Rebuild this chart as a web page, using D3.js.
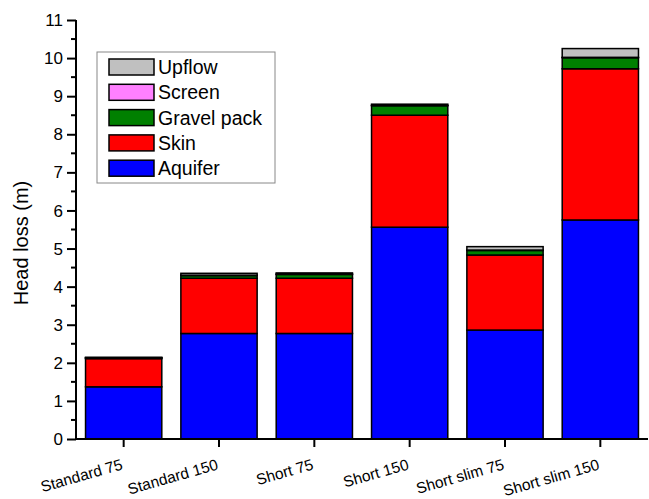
<!DOCTYPE html>
<html><head><meta charset="utf-8">
<script src="https://cdn.jsdelivr.net/npm/d3@7"></script>
<style>body{margin:0;background:#fff;} svg{display:block;font-family:"Liberation Sans",Arial,sans-serif;} .ytl{font-size:17px;}</style>
</head><body>
<svg id="c" width="649" height="499"></svg>
<script>
const categories = ["Standard 75","Standard 150","Short 75","Short 150","Short slim 75","Short slim 150"];
const seriesNames = ["Aquifer","Skin","Gravel pack","Screen","Upflow"];
const seriesColors = ["#0000ff","#ff0000","#008000","#ff80ff","#c0c0c0"];
const aquifer = [1.37, 2.77, 2.77, 5.56, 2.86, 5.75];
const skin    = [0.74, 1.45, 1.45, 2.94, 1.97, 3.97];
const gravel  = [0.02, 0.07, 0.10, 0.25, 0.12, 0.29];
const screen  = [0.005, 0.01, 0.01, 0.01, 0.01, 0.01];
const upflow  = [0.01, 0.05, 0.03, 0.03, 0.09, 0.23];
const yTicks = [0,1,2,3,4,5,6,7,8,9,10,11];
const yLabel = "Head loss (m)";

(function(){
const svg = d3.select("#c");
const mLeft = 76, mRight = 648, mTop = 20, mBottom = 439;
const x = d3.scaleBand().domain(categories).range([mLeft, mRight]).paddingInner(0.2).paddingOuter(0.1);
const y = d3.scaleLinear().domain([0, 11]).range([mBottom, mTop]);

const rows = categories.map((c,i)=>({cat:c, Aquifer:aquifer[i], Skin:skin[i], "Gravel pack":gravel[i], Screen:screen[i], Upflow:upflow[i]}));
const stacked = d3.stack().keys(seriesNames)(rows);

const g = svg.append("g");
stacked.forEach((s, si) => {
  g.selectAll(null).data(s).enter().append("rect")
    .attr("x", d => x(d.data.cat))
    .attr("width", x.bandwidth())
    .attr("y", d => y(d[1]))
    .attr("height", d => Math.max(0, y(d[0]) - y(d[1])))
    .attr("fill", seriesColors[si])
    .attr("stroke", "#000")
    .attr("stroke-width", 1.5);
});

// Y axis
const yAxis = d3.axisLeft(y).tickValues(yTicks).tickSize(9).tickFormat("");
const ya = svg.append("g").attr("transform", `translate(${mLeft},0)`).call(yAxis);
ya.select(".domain").attr("stroke-width", 2).attr("d", `M0,${mBottom}V${mTop}`);
ya.selectAll(".tick line").attr("stroke-width", 2);
svg.append("g").selectAll("text").data(yTicks).enter().append("text")
  .attr("class", "ytl")
  .attr("x", mLeft - 13).attr("y", d => y(d)).attr("dy", "0.36em")
  .attr("text-anchor", "end").attr("fill", "#000")
  .text(d => d3.format("d")(d));
const minor = d3.range(0.5, 11, 1);
svg.append("g").selectAll("line").data(minor).enter().append("line")
  .attr("x1", mLeft - 5).attr("x2", mLeft).attr("y1", d => y(d)).attr("y2", d => y(d))
  .attr("stroke", "#000").attr("stroke-width", 2);

// X axis
const xAxis = d3.axisBottom(x).tickSize(8).tickFormat("");
const xa = svg.append("g").attr("transform", `translate(0,${mBottom})`).call(xAxis);
xa.select(".domain").attr("stroke-width", 2).attr("d", `M${mLeft},0H${mRight}`);
xa.selectAll(".tick line").attr("stroke-width", 2);
svg.append("g").selectAll("text").data(categories).enter().append("text")
  .attr("transform", d => `translate(${x(d) + x.bandwidth()/2},${mBottom + 30}) rotate(-16)`)
  .attr("text-anchor", "end")
  .style("font-size", "15.5px")
  .text(d => d);

svg.append("text")
  .attr("transform", `translate(28,243) rotate(-90)`)
  .attr("text-anchor", "middle")
  .style("font-size", "20px")
  .text(yLabel);

// Legend
const lg = svg.append("g");
lg.append("rect").attr("x", 97).attr("y", 52).attr("width", 178).attr("height", 131)
  .attr("fill", "#fff").attr("stroke", "#888").attr("stroke-width", 1);
const legendOrder = [4,3,2,1,0];
legendOrder.forEach((si, r) => {
  const cy = 67 + r * 25.3;
  lg.append("rect").attr("x", 109).attr("y", cy - 8).attr("width", 45).attr("height", 16)
    .attr("fill", seriesColors[si]).attr("stroke", "#000").attr("stroke-width", 1.5);
  lg.append("text").attr("x", 158).attr("y", cy).attr("dy", "0.36em")
    .style("font-size", "19.5px").text(seriesNames[si]);
});
})();
</script>
</body></html>
